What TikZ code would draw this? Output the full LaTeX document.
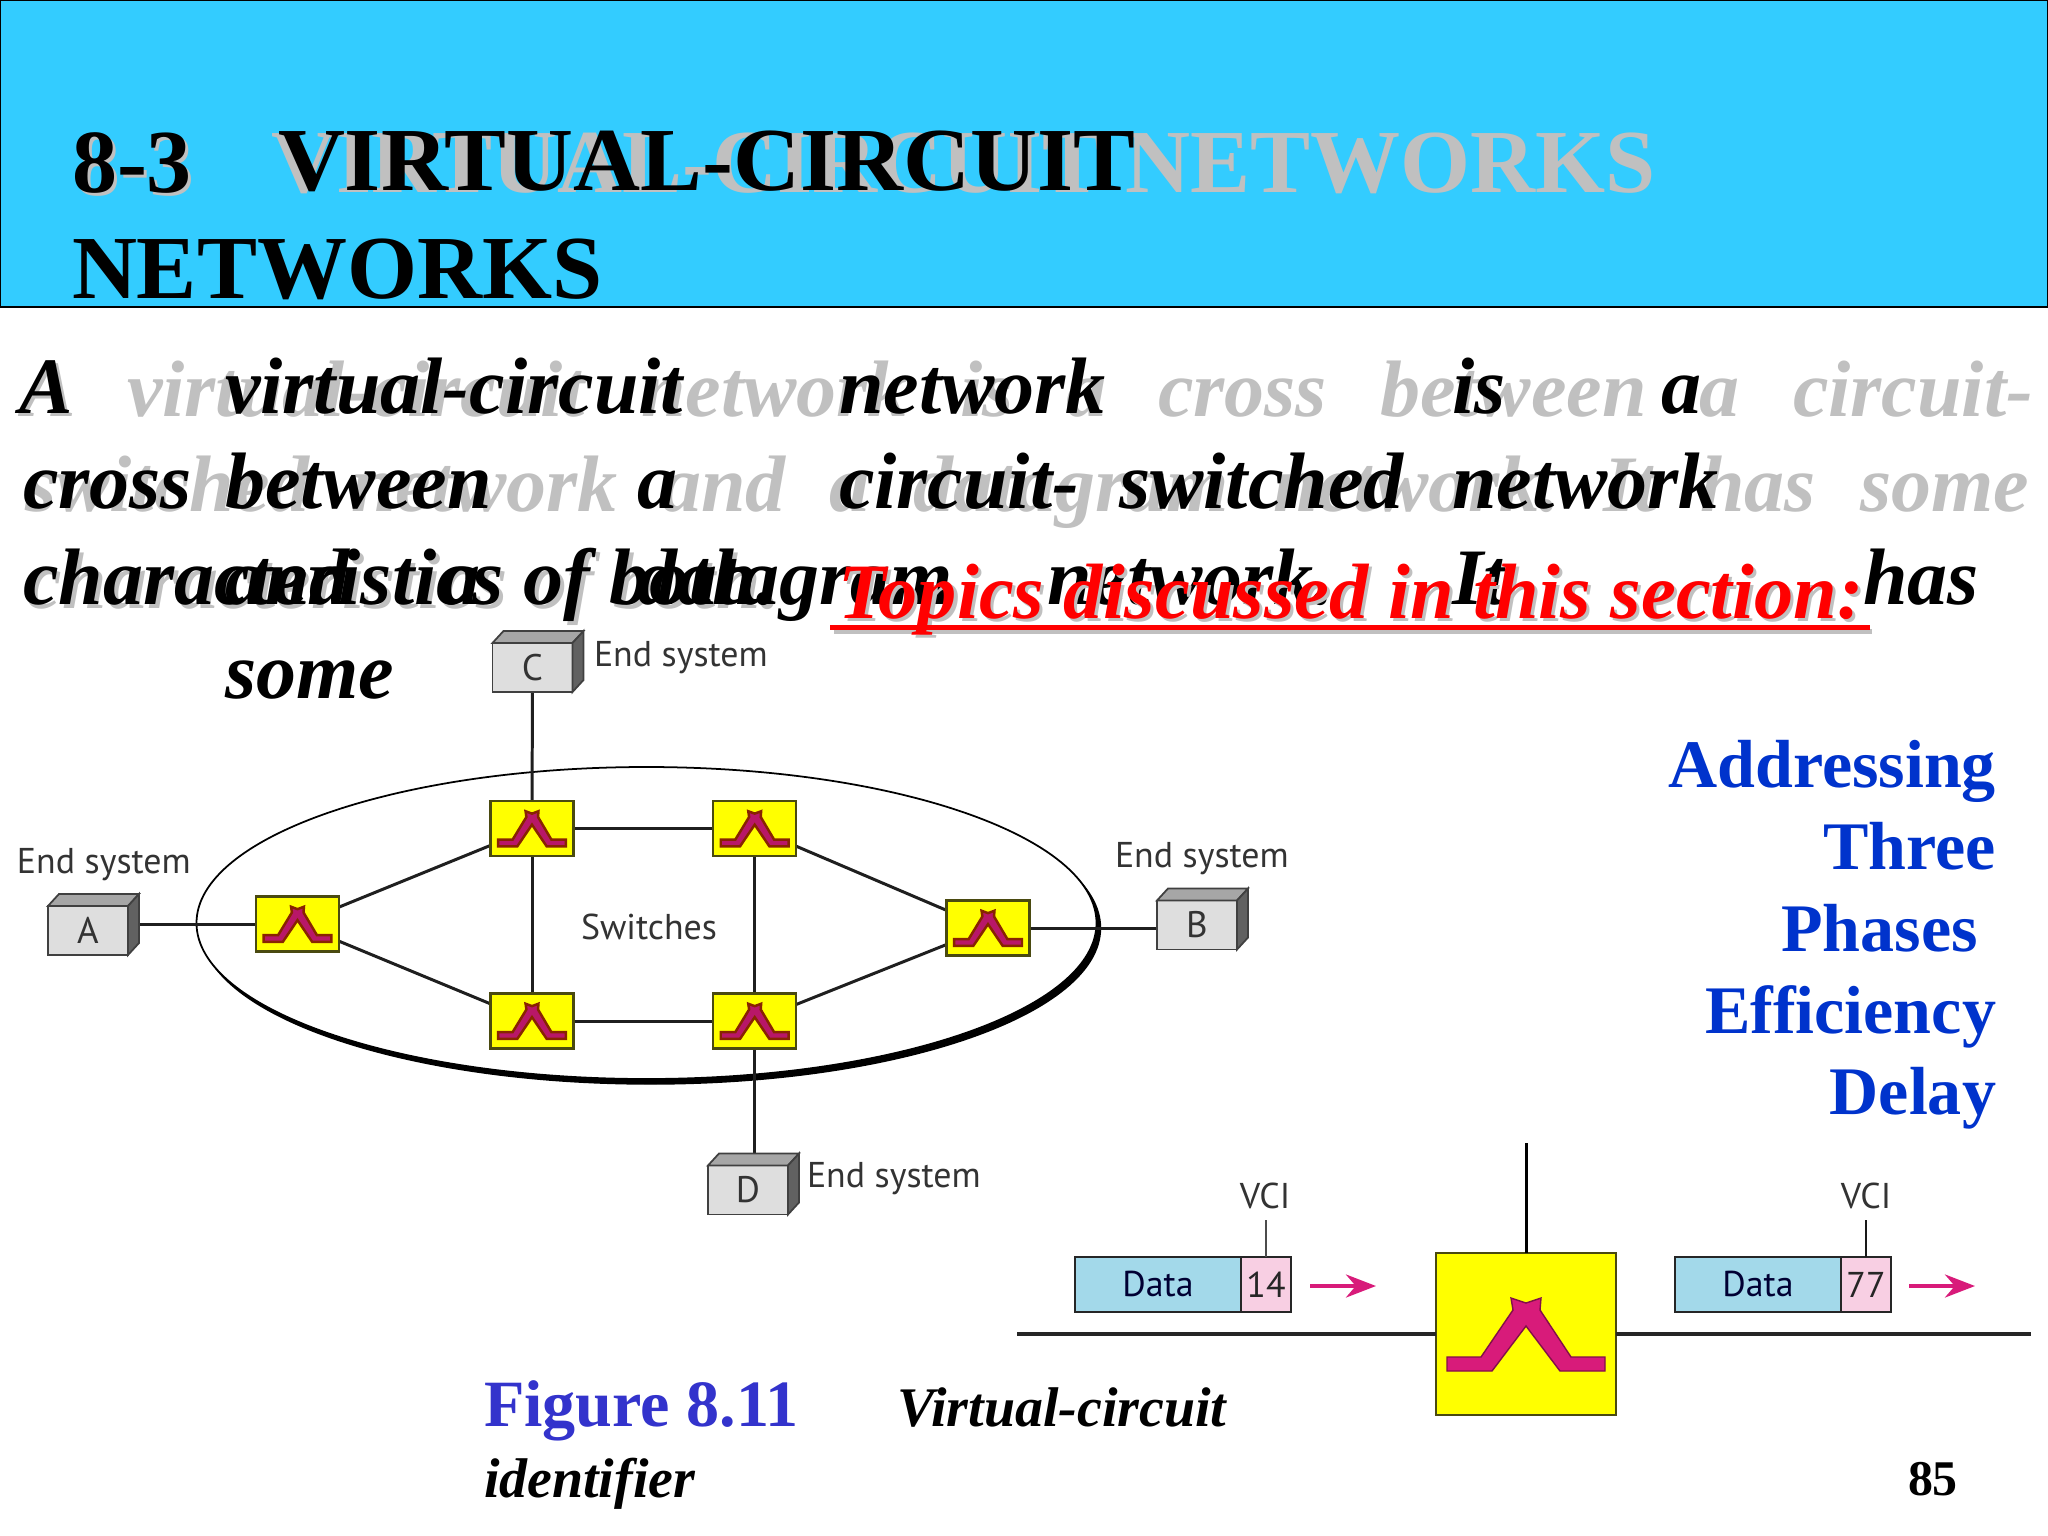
\documentclass[tikz,border=0pt]{standalone}
\usepackage{fontspec}
\setmainfont{Liberation Serif}
\newfontfamily\labelfont{PT Sans}
\usetikzlibrary{arrows.meta, shapes.geometric, backgrounds}

\definecolor{skyband}{HTML}{33CCFF}
\definecolor{shadowgray}{HTML}{C0C0C0}
\definecolor{listblue}{HTML}{0033CC}
\definecolor{figblue}{HTML}{3333CC}
\definecolor{swyellow}{HTML}{FFFF00}
\definecolor{swedge}{HTML}{4A4A10}
\definecolor{datablue}{HTML}{A3D9EA}
\definecolor{vcipink}{HTML}{F8CFE3}
\definecolor{arrowpink}{HTML}{D81B7A}

\newcommand{\glyphpath}{(-79,37)--(-34,37)--(0,-8)--(34,37)--(79,37)--(79,23)--(45,23)--(14,-24)--(15,-36)--(0,-31)--(-15,-36)--(-13,-24)--(-45,23)--(-79,23)--cycle}

\tikzset{
  wordbase/.style={inner sep=0pt, outer sep=0pt, anchor=base west},
  titleword/.style={wordbase, font=\fontsize{25.6}{30}\selectfont\bfseries},
  bodyword/.style={wordbase, font=\fontsize{22.76}{27}\selectfont\bfseries\itshape},
  topicword/.style={wordbase, font=\fontsize{22.3}{27}\selectfont\bfseries\itshape},
  listword/.style={inner sep=0pt, outer sep=0pt, anchor=base east, text=listblue, font=\fontsize{19.35}{23}\selectfont\bfseries},
  capword/.style={wordbase, font=\fontsize{15.9}{19}\selectfont\bfseries\itshape},
  esbox/.style={draw=black!75, line width=0.5pt, fill=black!13, minimum width=0.8cm, minimum height=0.49cm, inner sep=0pt, outer sep=0pt, text=black!80, font=\labelfont\fontsize{10.5}{12}\selectfont},
  netlabel/.style={inner sep=0pt, outer sep=0pt, text=black!80, font=\labelfont\fontsize{10.2}{12}\selectfont},
  swbox/.style={draw=swedge, line width=0.7pt, fill=swyellow, minimum width=0.83cm, minimum height=0.55cm, inner sep=0pt, outer sep=0pt},
  bigbox/.style={swbox, minimum width=1.8cm, minimum height=1.62cm},
  wire/.style={line width=0.85pt, draw=black!88},
  smallglyph/.style={draw=black!40!red!60!orange!70!black, line width=0.7pt, fill=arrowpink!85!black},
  bigglyph/.style={draw=arrowpink!60!black, line width=0.4pt, fill=arrowpink},
  databox/.style={draw=black!85, line width=0.6pt, fill=datablue, minimum width=1.66cm, minimum height=0.55cm, inner sep=0pt, outer sep=0pt, text=black!80!blue, font=\labelfont\fontsize{10.2}{12}\selectfont},
  vcibox/.style={draw=black!85, line width=0.6pt, fill=vcipink, minimum width=0.5cm, minimum height=0.55cm, inner sep=0pt, outer sep=0pt, text=black!85, font=\labelfont\fontsize{10.2}{12}\selectfont},
  movearrow/.style={draw=arrowpink, line width=1.1pt, -{Stealth[length=0.3cm, width=0.23cm]}}
}

\begin{document}
\begin{tikzpicture}[x=0.01cm, y=-0.01cm]
  \useasboundingbox (0,0) rectangle (2048,1536);

  % title band
  \draw[fill=skyband, draw=black, line width=0.6pt] (0,0) rectangle (2048,307);
  \node[titleword, text=shadowgray] (shade83) at (75,195) {8-3};
  \node[titleword, text=shadowgray] (shadeTitle) at (271,192) {VIRTUAL-CIRCUIT NETWORKS};
  \node[titleword] (num83) at (72,192) {8-3};
  \node[titleword, xscale=1.03] (titleA) at (278,190) {VIRTUAL-CIRCUIT};
  \node[titleword] (titleB) at (72,298) {NETWORKS};

  % shadow of the paragraph
  \foreach \xx/\word in {22/A, 127/virtual-circuit, 641/network, 960/is, 1066/a, 1158/cross, 1380/between, 1699/a, 1793/circuit-}
    \node[bodyword, text=shadowgray] (shadeA\xx) at (\xx,416) {\word};
  \foreach \xx/\word in {25/switched, 351/network, 661/and, 829/a, 913/datagram, 1273/network., 1603/It, 1700/has, 1860/some}
    \node[bodyword, text=shadowgray] (shadeB\xx) at (\xx,511) {\word};
  \node[bodyword, text=shadowgray] (shadeC) at (27,608) {characteristics of both.};

  % paragraph
  \foreach \xx/\word in {20/A, 225/virtual-circuit, 839/network, 1452/is, 1661/a}
    \node[bodyword] (lineA\xx) at (\xx,413) {\word};
  \foreach \xx/\word in {23/cross, 225/between, 637/a, 839/circuit-, 1119/switched, 1452/network}
    \node[bodyword] (lineB\xx) at (\xx,508) {\word};
  \foreach \xx/\word in {23/characteristics of both., 225/and, 440/a, 637/datagram, 1047/network., 1452/It, 1863/has}
    \node[bodyword] (lineC\xx) at (\xx,604) {\word};
  \node[bodyword] (lineD) at (225,698) {some};

  % topics heading
  \fill[shadowgray] (834,629) rectangle (1872,634);
  \node[topicword, text=shadowgray] (shadeTopics) at (841,621) {Topics discussed in this section:};
  \node[topicword, text=red] (topics) at (838,618) {Topics discussed in this section:};
  \fill[red] (830,625) rectangle (1870,630);

  % list
  \node[listword] (item1) at (1996,787) {Addressing};
  \node[listword] (item2) at (1996,869) {Three};
  \node[listword] (item3) at (1978,951) {Phases};
  \node[listword] (item4) at (1996,1033) {Efficiency};
  \node[listword] (item5) at (1996,1114) {Delay};

  % network
  \node[swbox] (s1) at (297.5,924) {};
  \node[swbox] (s2) at (532,828.5) {};
  \node[swbox] (s3) at (754.7,828.5) {};
  \node[swbox] (s4) at (532,1021) {};
  \node[swbox] (s5) at (754.7,1021) {};
  \node[swbox] (s6) at (988,928) {};

  \node[esbox] (A) at (88,930.5) {A};
  \node[esbox] (B) at (1197,925) {B};
  \node[esbox] (C) at (532.5,667.5) {C};
  \node[esbox] (D) at (748,1190) {D};
  \foreach \bx in {A,B,C,D} {
    \draw[draw=black!75, line width=0.5pt, fill=black!35] (\bx.north west) -- ++(11,-12) -- ++(80,0) -- ++(-11,12) -- cycle;
    \draw[draw=black!75, line width=0.5pt, fill=black!62] (\bx.north east) -- ++(11,-12) -- ++(0,49) -- ++(-11,12) -- cycle;
  }

  \begin{scope}[on background layer]
    \draw[black, fill=black] (650.5,928) ellipse (450 and 156);
    \draw[black, fill=white, line width=0.5pt] (646.5,923) ellipse (450 and 156);
    \draw[wire] (s1) -- (s2);
    \draw[wire] (s1) -- (s4);
    \draw[wire] (s2) -- (s3);
    \draw[wire] (s2) -- (s4);
    \draw[wire] (s3) -- (s5);
    \draw[wire] (s4) -- (s5);
    \draw[wire] (s3) -- (s6);
    \draw[wire] (s5) -- (s6);
    \draw[wire] (C) -- (s2);
    \draw[wire] (s5) -- (s5 |- D);
    \draw[wire] (s1) -- (s1 -| A);
    \draw[wire] (s6) -- (s6 -| B);
  \end{scope}

  \foreach \sw in {s1,s2,s3,s4,s5,s6} {
    \begin{scope}[shift={(\sw.center)}, xscale=0.43, yscale=0.48]
      \draw[smallglyph] \glyphpath;
    \end{scope}
  }

  \node[netlabel, anchor=west] (labA) at (17,865) {End system};
  \node[netlabel, anchor=west] (labB) at (1115,859) {End system};
  \node[netlabel, anchor=west] (labC) at (594,658) {End system};
  \node[netlabel, anchor=west] (labD) at (807,1179) {End system};
  \node[netlabel, anchor=west] (labSw) at (581,927) {Switches};

  % enlarged switch
  \node[bigbox] (big) at (1526,1334) {};
  \coordinate (wiretop) at (1526,1143);
  \coordinate (lineleft) at (1017,1334);
  \coordinate (lineright) at (2031,1334);
  \draw[line width=0.85pt, black] (big.north) -- (wiretop);
  \draw[line width=1.1pt, black!85] (lineleft) -- (big.west);
  \draw[line width=1.1pt, black!85] (big.east) -- (lineright);
  \begin{scope}[shift={(big.center)}]
    \draw[bigglyph] \glyphpath;
  \end{scope}

  \node[databox] (dataL) at (1158,1284.5) {Data};
  \node[vcibox] (vciL) at (1266,1284.5) {14};
  \node[databox] (dataR) at (1758,1284.5) {Data};
  \node[vcibox] (vciR) at (1866,1284.5) {77};

  \node[netlabel] (labvciL) at (1265,1196) {VCI};
  \node[netlabel] (labvciR) at (1866,1196) {VCI};
  \coordinate (tickL) at (1266,1220);
  \coordinate (tickR) at (1866,1220);
  \draw[line width=0.5pt, black!70] (vciL.north) -- (tickL);
  \draw[line width=0.5pt, black!90] (vciR.north) -- (tickR);

  \coordinate (arrLa) at (1310,1286);
  \coordinate (arrLb) at (1376,1286);
  \coordinate (arrRa) at (1909,1286);
  \coordinate (arrRb) at (1975,1286);
  \draw[movearrow] (arrLa) -- (arrLb);
  \draw[movearrow] (arrRa) -- (arrRb);

  % caption
  \node[wordbase, text=figblue, font=\fontsize{18.8}{22}\selectfont\bfseries] (figno) at (484,1426) {Figure 8.11};
  \node[capword] (capA) at (897,1426) {Virtual-circuit};
  \node[capword] (capB) at (484,1497) {identifier};
  \node[wordbase, font=\fontsize{14.2}{17}\selectfont\bfseries] (pageno) at (1908,1495) {85};
\end{tikzpicture}
\end{document}
